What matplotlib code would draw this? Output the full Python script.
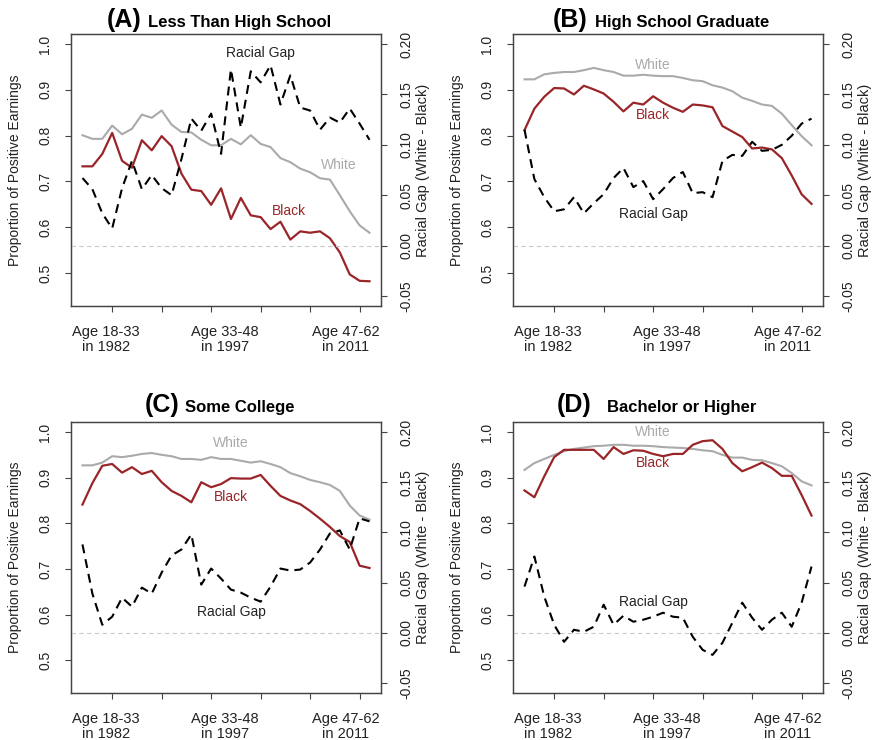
import numpy as np
import matplotlib
matplotlib.use("Agg")
import matplotlib.pyplot as plt

plt.rcParams['font.family'] = ['Liberation Sans', 'DejaVu Sans']

# survey waves, 30 of them
waves = np.arange(30)

white_a = [0.801, 0.793, 0.793, 0.822, 0.803, 0.815, 0.846, 0.839, 0.855, 0.824,
           0.808, 0.807, 0.791, 0.779, 0.779, 0.793, 0.781, 0.801, 0.782, 0.775,
           0.751, 0.742, 0.728, 0.720, 0.707, 0.704, 0.670, 0.635, 0.604, 0.588]
black_a = [0.733, 0.733, 0.760, 0.806, 0.745, 0.730, 0.790, 0.768, 0.799, 0.777,
           0.717, 0.682, 0.679, 0.649, 0.685, 0.618, 0.664, 0.626, 0.622, 0.596,
           0.612, 0.573, 0.591, 0.588, 0.591, 0.576, 0.545, 0.497, 0.483, 0.482]
gap_a = [0.067, 0.056, 0.032, 0.017, 0.057, 0.084, 0.056, 0.070, 0.057, 0.050,
         0.086, 0.126, 0.114, 0.131, 0.091, 0.175, 0.117, 0.173, 0.162, 0.179,
         0.140, 0.169, 0.137, 0.134, 0.115, 0.127, 0.122, 0.136, 0.121, 0.105]

white_b = [0.923, 0.923, 0.934, 0.937, 0.939, 0.939, 0.943, 0.948, 0.943, 0.939,
           0.931, 0.931, 0.933, 0.931, 0.930, 0.930, 0.926, 0.921, 0.919, 0.910,
           0.905, 0.897, 0.883, 0.876, 0.868, 0.865, 0.848, 0.823, 0.799, 0.779]
black_b = [0.812, 0.859, 0.885, 0.904, 0.903, 0.890, 0.909, 0.901, 0.892, 0.874,
           0.853, 0.872, 0.868, 0.886, 0.872, 0.861, 0.852, 0.868, 0.866, 0.862,
           0.821, 0.809, 0.797, 0.772, 0.774, 0.770, 0.751, 0.713, 0.672, 0.651]
gap_b = [0.115, 0.066, 0.048, 0.034, 0.036, 0.048, 0.032, 0.042, 0.051, 0.067,
         0.077, 0.058, 0.064, 0.046, 0.056, 0.067, 0.073, 0.052, 0.053, 0.048,
         0.084, 0.090, 0.089, 0.103, 0.094, 0.095, 0.100, 0.109, 0.121, 0.126]

white_c = [0.927, 0.927, 0.933, 0.947, 0.945, 0.948, 0.952, 0.954, 0.950, 0.947,
           0.941, 0.941, 0.939, 0.945, 0.941, 0.941, 0.937, 0.933, 0.936, 0.930,
           0.923, 0.910, 0.903, 0.895, 0.890, 0.884, 0.871, 0.839, 0.817, 0.808]
black_c = [0.841, 0.888, 0.926, 0.930, 0.911, 0.923, 0.908, 0.915, 0.890, 0.871,
           0.860, 0.846, 0.890, 0.879, 0.886, 0.899, 0.898, 0.898, 0.906, 0.882,
           0.860, 0.850, 0.842, 0.827, 0.810, 0.792, 0.772, 0.759, 0.707, 0.702]
gap_c = [0.088, 0.039, 0.008, 0.016, 0.035, 0.026, 0.045, 0.039, 0.060, 0.077,
         0.083, 0.098, 0.048, 0.064, 0.054, 0.043, 0.040, 0.035, 0.031, 0.046,
         0.064, 0.062, 0.063, 0.070, 0.083, 0.099, 0.102, 0.083, 0.114, 0.111]

white_d = [0.917, 0.932, 0.941, 0.950, 0.958, 0.963, 0.966, 0.969, 0.970, 0.972,
           0.972, 0.970, 0.970, 0.969, 0.967, 0.966, 0.965, 0.963, 0.960, 0.958,
           0.950, 0.944, 0.944, 0.939, 0.938, 0.932, 0.925, 0.910, 0.892, 0.883]
black_d = [0.872, 0.857, 0.903, 0.945, 0.961, 0.961, 0.961, 0.961, 0.941, 0.967,
           0.952, 0.960, 0.959, 0.952, 0.947, 0.952, 0.952, 0.972, 0.980, 0.982,
           0.963, 0.932, 0.914, 0.923, 0.933, 0.921, 0.904, 0.904, 0.862, 0.817]
gap_d = [0.046, 0.076, 0.036, 0.008, -0.009, 0.003, 0.001, 0.006, 0.028, 0.008,
         0.017, 0.011, 0.013, 0.016, 0.020, 0.016, 0.015, -0.004, -0.017, -0.022,
         -0.010, 0.010, 0.030, 0.015, 0.003, 0.013, 0.020, 0.006, 0.030, 0.066]

tick_waves = [3, 8, 13, 18, 23, 28]
age_labels = [("Age 18-33", "in 1982"), ("Age 33-48", "in 1997"), ("Age 47-62", "in 2011")]
age_label_x = [2.37, 14.4, 26.6]

left_ticks = [0.5, 0.6, 0.7, 0.8, 0.9, 1.0]
right_ticks = [-0.05, 0.0, 0.05, 0.10, 0.15, 0.20]

RED = '#9a2529'
GREY = '#aaaaaa'
AXC = '#444444'
TXT = '#222222'

W, H = 874, 740
fig = plt.figure(figsize=(W / 100, H / 100), dpi=100)

# (letter, title, white, black, gap, box px (l, t, r, b), title px, label spots)
panels = [
    ("(A)", "Less Than High School", white_a, black_a, gap_a,
     (71, 34, 381, 306), (142, 148, 26.5),
     {"gap": (18, 0.98), "white": (25.9, 0.737), "black": (20.9, 0.636)}),
    ("(B)", "High School Graduate", white_b, black_b, gap_b,
     (513, 34, 823, 306), (588, 595, 26.5),
     {"gap": (13, 0.629), "white": (13, 0.955), "black": (13, 0.845)}),
    ("(C)", "Some College", white_c, black_c, gap_c,
     (71, 422, 381, 693), (180, 185, 412),
     {"gap": (15, 0.605), "white": (15, 0.977), "black": (15, 0.857)}),
    ("(D)", "Bachelor or Higher", white_d, black_d, gap_d,
     (513, 422, 823, 693), (592, 607, 412),
     {"gap": (13, 0.627), "white": (13, 0.999), "black": (13, 0.933)}),
]

for letter, title, white, black, gap, (l, t, r, b), (tl, tr, tb), spots in panels:
    ax = fig.add_axes([l / W, 1 - b / H, (r - l) / W, (b - t) / H])
    ax2 = ax.twinx()

    ax.plot(waves, white, color=GREY, lw=1.5, solid_joinstyle='round')
    ax.plot(waves, black, color=RED, lw=1.6, solid_joinstyle='round')
    ax2.axhline(0, color='#c8c8c8', lw=0.8, linestyle=(0, (4, 3)))
    ax2.plot(waves, gap, color='black', lw=1.5, linestyle=(0, (4.3, 2.9)))

    ax.set_xlim(-1.16, 30.16)
    ax.set_ylim(0.428, 1.022)
    ax2.set_ylim(-0.06, 0.21)

    ax.set_xticks(tick_waves)
    ax.set_xticklabels([])
    ax.set_yticks(left_ticks)
    ax.set_yticklabels([f"{v:.1f}" for v in left_ticks], rotation=90, va='center')
    ax2.set_yticks(right_ticks)
    ax2.set_yticklabels([f"{v:.2f}" for v in right_ticks], rotation=90, va='center')

    for a in (ax, ax2):
        a.tick_params(direction='out', length=4.5, width=0.8, color=AXC,
                      labelsize=10, labelcolor=TXT, pad=9)
        for s in a.spines.values():
            s.set_color(AXC)
            s.set_linewidth(0.9)

    for (line1, line2), xl in zip(age_labels, age_label_x):
        ax.annotate(line1, xy=(xl, 0), xycoords=('data', 'axes fraction'),
                    xytext=(0, -26 * 0.72), textcoords='offset points',
                    ha='center', va='center', fontsize=10.5, color=TXT)
        ax.annotate(line2, xy=(xl, 0), xycoords=('data', 'axes fraction'),
                    xytext=(0, -41 * 0.72), textcoords='offset points',
                    ha='center', va='center', fontsize=10.5, color=TXT)

    ax.text(*spots["white"], "White", color=GREY, fontsize=10, ha='center', va='center')
    ax.text(*spots["black"], "Black", color=RED, fontsize=10, ha='center', va='center')
    ax.text(*spots["gap"], "Racial Gap", color=TXT, fontsize=10, ha='center', va='center')

    yc = 1 - (t + b) / 2 / H
    fig.text((l - 56) / W, yc, "Proportion of Positive Earnings", rotation=90,
             ha='center', va='center', fontsize=10, color=TXT)
    fig.text((r + 42) / W, yc, "Racial Gap (White - Black)", rotation=90,
             ha='center', va='center', fontsize=10.5, color=TXT)

    fig.text(tl / W, 1 - tb / H, letter, ha='right', va='baseline',
             fontsize=18, fontweight='bold', color='black')
    fig.text(tr / W, 1 - tb / H, title, ha='left', va='baseline',
             fontsize=12, fontweight='bold', color='black')

fig.savefig("out.png", dpi=100)
